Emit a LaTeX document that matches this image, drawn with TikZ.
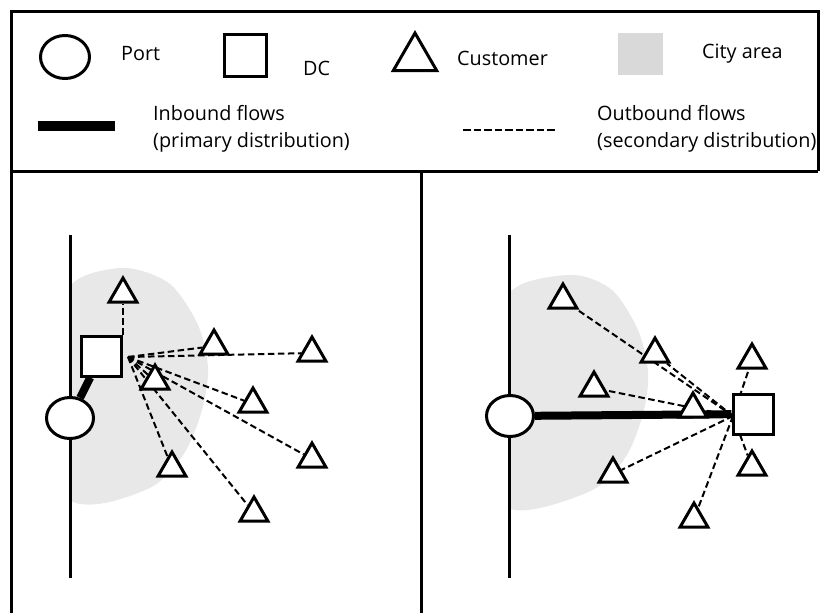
\documentclass[tikz,border=0pt]{standalone}
\usepackage{fontspec}
\setmainfont{Open Sans}
\usetikzlibrary{shapes.geometric}
\definecolor{cityfill}{HTML}{E8E8E8}
\definecolor{citykey}{HTML}{D9D9D9}
\pgfdeclarelayer{citylayer}
\pgfdeclarelayer{flowlayer}
\pgfsetlayers{citylayer,flowlayer,main}

\begin{document}
\begin{tikzpicture}[x=1pt,y=-1pt,
  frame/.style={line width=3pt},
  coast/.style={line width=3pt},
  portnode/.style={draw, ellipse, line width=3pt, fill=white, minimum width=47pt, minimum height=41pt, inner sep=0pt},
  dcnode/.style={draw, rectangle, line width=3pt, fill=white, minimum size=40pt, inner sep=0pt},
  custnode/.style={draw, regular polygon, regular polygon sides=3, line width=3pt, fill=white, minimum size=32pt, inner sep=0pt},
  inbound/.style={line width=8pt},
  outbound/.style={line width=2pt, dash pattern=on 6.5pt off 3.5pt},
  legtext/.style={anchor=base west, inner sep=0pt, font=\fontsize{19.8}{23}\selectfont}
]
\useasboundingbox (0,0) rectangle (822,613);

% outer frame and panel dividers
\draw[frame] (11,613) -- (11,11) -- (818,11) -- (818,171);
\draw[frame] (11,171) -- (818,171);
\draw[frame] (421,171) -- (421,613);

% ---------------- legend ----------------
\node[portnode, minimum width=49pt, minimum height=43pt] (lgport) at (65,57) {};
\node[legtext] (lgporttxt) at (121,60) {Port};
\node[dcnode, minimum size=42pt] (lgdc) at (245,55) {};
\node[legtext] (lgdctxt) at (303,75) {DC};
\node[custnode, minimum size=50pt] (lgcust) at (415,58) {};
\node[legtext] (lgcusttxt) at (457,65) {Customer};
\node[fill=citykey, minimum width=45pt, minimum height=42pt, inner sep=0pt] (lgcity) at (640,54) {};
\node[legtext] (lgcitytxt) at (702,58) {City area};

\coordinate (inA) at (38,126);
\coordinate (inB) at (115,126);
\draw[line width=10pt] (inA) -- (inB);
\node[legtext] (lgin1) at (153,120) {Inbound flows};
\node[legtext] (lgin2) at (153,147) {(primary distribution)};

\coordinate (outA) at (463,130);
\coordinate (outB) at (557,130);
\draw[line width=2pt, dash pattern=on 7.5pt off 3pt] (outA) -- (outB);
\node[legtext] (lgout1) at (597,120) {Outbound flows};
\node[legtext] (lgout2) at (597,147) {(secondary distribution)};

% ---------------- left panel: DC next to the port ----------------
\begin{pgfonlayer}{citylayer}
  \begin{scope}
    \clip (70,200) rectangle (420,613);
    \fill[cityfill] plot[smooth cycle] coordinates {(127,268) (170,284) (198,325) (208,368) (202,410) (185,452) (155,485) (105,503) (70,500) (55,460) (50,385) (55,310) (80,278)};
  \end{scope}
\end{pgfonlayer}

\node[portnode] (portL) at (70,418) {};
\node[dcnode] (dcL) at (101,356) {};
\node[custnode] (L1) at (123,294) {};
\node[custnode] (L2) at (214,346) {};
\node[custnode] (L3) at (312,353) {};
\node[custnode] (L4) at (155,381) {};
\node[custnode] (L5) at (253,404) {};
\node[custnode] (L6) at (312,459) {};
\node[custnode] (L7) at (172,468) {};
\node[custnode] (L8) at (254,513) {};
\coordinate (hubL) at (128,357);

\begin{pgfonlayer}{flowlayer}
  \draw[coast] (70,235) -- (70,578);
  \draw[outbound] (L1 |- dcL.north) -- (L1);
  \foreach \c in {L2,L3,L4,L5,L6,L7,L8} \draw[outbound] (hubL) -- (\c);
  \draw[inbound] (portL) -- (dcL);
\end{pgfonlayer}

% ---------------- right panel: DC far from the port ----------------
\begin{pgfonlayer}{citylayer}
  \begin{scope}
    \clip (509,200) rectangle (822,613);
    \fill[cityfill] plot[smooth cycle] coordinates {(574,275) (612,290) (638,330) (648,372) (644,410) (628,453) (598,487) (540,508) (505,505) (490,450) (485,390) (490,320) (520,285)};
  \end{scope}
\end{pgfonlayer}

\node[portnode] (portR) at (510,416) {};
\node[dcnode] (dcR) at (753,414) {};
\node[custnode] (R1) at (563,300) {};
\node[custnode] (R2) at (655,354) {};
\node[custnode] (R3) at (594,388) {};
\node[custnode] (R4) at (693,409) {};
\node[custnode] (R5) at (752,360) {};
\node[custnode] (R6) at (752,467) {};
\node[custnode] (R7) at (613,474) {};
\node[custnode] (R8) at (694,519) {};
\coordinate (hubR) at (733,416);

\begin{pgfonlayer}{flowlayer}
  \draw[coast] (509,235) -- (509,578);
  \foreach \c in {R1,R2,R3,R4,R5,R6,R7,R8} \draw[outbound] (hubR) -- (\c);
  \draw[inbound] (portR) -- (dcR);
\end{pgfonlayer}

\end{tikzpicture}
\end{document}
